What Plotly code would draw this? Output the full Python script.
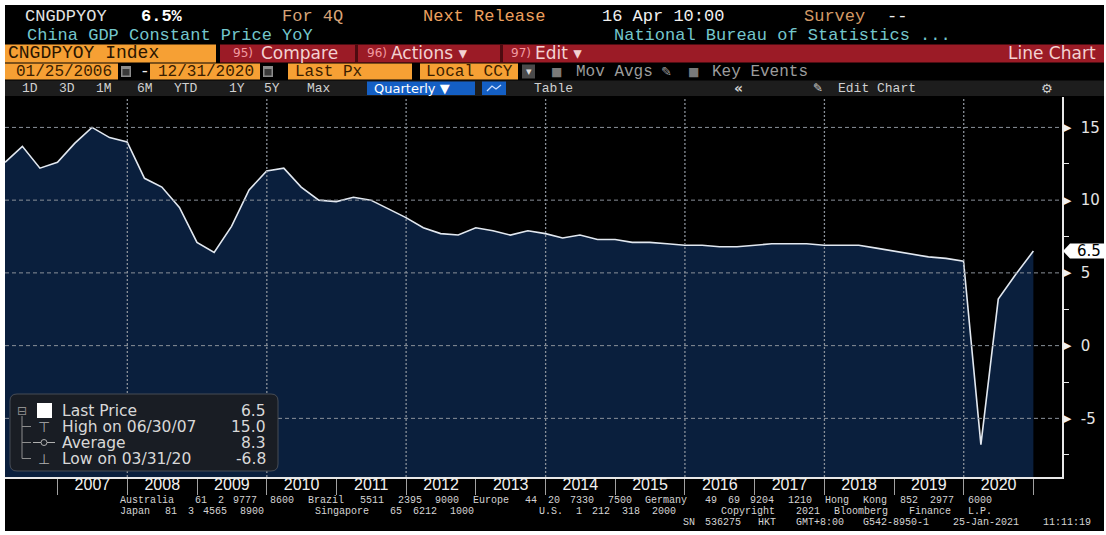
import plotly.graph_objects as go

W, H = 1106, 535

# ---------------- data ----------------
years = list(range(2006, 2021))
quarter_ends = [f"{y}-{md}" for y in years for md in ("03-31", "06-30", "09-30", "12-31")]
gdp_yoy = [
    12.6, 13.7, 12.2, 12.6,   # 2006
    13.9, 15.0, 14.3, 14.0,   # 2007
    11.5, 10.9, 9.5, 7.1,     # 2008
    6.4, 8.2, 10.7, 12.0,     # 2009
    12.2, 10.9, 10.0, 9.9,    # 2010
    10.2, 10.0, 9.4, 8.8,     # 2011
    8.1, 7.7, 7.6, 8.1,       # 2012
    7.9, 7.6, 7.9, 7.7,       # 2013
    7.4, 7.6, 7.3, 7.3,       # 2014
    7.1, 7.1, 7.0, 6.9,       # 2015
    6.9, 6.8, 6.8, 6.9,       # 2016
    7.0, 7.0, 7.0, 6.9,       # 2017
    6.9, 6.9, 6.7, 6.5,       # 2018
    6.3, 6.1, 6.0, 5.8,       # 2019
    -6.8, 3.2, 4.9, 6.5,      # 2020
]
label_years = list(range(2007, 2021))
year_labels = [str(y) for y in label_years]
year_mid_dates = [f"{y}-07-02" for y in label_years]
year_start_dates = [f"{y}-01-01" for y in range(2007, 2022)]
grid_year_dates = [f"{y}-01-01" for y in range(2008, 2021, 2)]
ytick_vals = [-5, 0, 5, 10, 15]
ytick_text = ["-5", "0", "5", "10", "15"]
yminor_vals = [-7.5, -2.5, 2.5, 7.5, 12.5]
x_range = ["2006-03-31", "2021-05-30"]
y_range = [-9.03, 17.09]

# summary stats for the legend box
last_val = gdp_yoy[-1]
hi_val = max(gdp_yoy)
lo_val = min(gdp_yoy)
avg_val = sum(gdp_yoy) / len(gdp_yoy)


def mdy(d):
    y, m, dd = d.split("-")
    return f"{m}/{dd}/{y[2:]}"


hi_date = mdy(quarter_ends[gdp_yoy.index(hi_val)])
lo_date = mdy(quarter_ends[gdp_yoy.index(lo_val)])


def X(px):
    return px / W


def Y(py):
    return 1 - py / H


shapes = []
annotations = []

MONO = "Liberation Mono"
SANS = "DejaVu Sans"


def rect(x0, y0, x1, y1, color, layer="below", line=None):
    shapes.append(dict(type="rect", xref="paper", yref="paper", x0=X(x0), x1=X(x1),
                       y0=Y(y1), y1=Y(y0), fillcolor=color, layer=layer,
                       line=line or dict(width=0)))


def text(x, y, s, color, size, font=MONO, anchor="left"):
    annotations.append(dict(xref="paper", yref="paper", x=X(x), y=Y(y), text=s,
                            showarrow=False, xanchor=anchor, yanchor="middle",
                            font=dict(family=font, size=size, color=color)))


def grid_words(x0, y, s, pitch, color, size):
    """place each word of a terminal line on its fixed-pitch character grid"""
    pos = 0
    for w in s.split(" "):
        if w:
            text(x0 + pos * pitch, y, w, color, size)
        pos += len(w) + 1


# overall black background with white border
rect(5, 5, 1104, 531, "#000000")

# ---- header row 1 ----
r1 = 16
text(23, r1, "CNGDPYOY", "#e4e4e4", 17)
text(139, r1, f"<b>{last_val:.1f}%</b>", "#ffffff", 17)
text(280, r1, "For 4Q", "#d8a478", 17)
text(421, r1, "Next Release", "#eda15f", 17)
text(600, r1, "16 Apr 10:00", "#f0f0f0", 17)
text(802, r1, "Survey", "#d39a66", 17)
text(885, r1, "--", "#f0f0f0", 17)

# ---- header row 2 ----
r2 = 35.5
text(25, r2, "China GDP Constant Price YoY", "#74c6cc", 17)
text(612, r2, "National Bureau of Statistics ...", "#74c6cc", 17)

# ---- header row 3 ----
r3 = 53.5
rect(5, 44.5, 216, 62.5, "#f6a034")
text(6, r3, "CNGDPYOY Index", "#2a1500", 18)
rect(220, 44.5, 1104, 62.5, "#9b1b26")
rect(355, 44.5, 358, 62.5, "#4e0b10")
rect(500, 44.5, 503, 62.5, "#4e0b10")
text(231, r3, "95)", "#f19aa0", 12, SANS)
text(259, r3, "Compare", "#f3d2d2", 17, SANS)
text(365, r3, "96)", "#f19aa0", 12, SANS)
text(389, r3, "Actions \u25be", "#f3d2d2", 17, SANS)
text(509, r3, "97)", "#f19aa0", 12, SANS)
text(533, r3, "Edit \u25be", "#f3d2d2", 17, SANS)
text(1098, r3, "Line Chart", "#f3d2d2", 17, SANS, anchor="right")

# ---- header row 4 ----
r4 = 71.5
OR_TXT = "#3a1d00"
rect(5, 63.5, 118, 79.5, "#f6a034")
text(14, r4, "01/25/2006", OR_TXT, 16)
rect(121, 66, 131, 77, "#8c8c8c")
rect(122.5, 69, 129.5, 75.5, "#3a3a3a")
text(138, r4, "-", "#f0f0f0", 16)
rect(150, 63.5, 260, 79.5, "#f6a034")
text(156, r4, "12/31/2020", OR_TXT, 16)
rect(263, 66, 273, 77, "#8c8c8c")
rect(264.5, 69, 271.5, 75.5, "#3a3a3a")
rect(288, 63.5, 412, 79.5, "#f6a034")
text(293, r4, "Last Px", OR_TXT, 16)
rect(420, 63.5, 518, 79.5, "#f6a034")
text(424, r4, "Local CCY", OR_TXT, 16)
rect(522, 64.5, 535, 78.5, "#4a4a4a")
text(528.5, r4, "\u25be", "#dddddd", 11, SANS, anchor="center")
text(549, r4, "\u25a0", "#7a7a7a", 12, SANS)
text(574, r4, "Mov Avgs", "#9c9c9c", 16)
text(659, r4, "\u270e", "#9c9c9c", 13, SANS)
text(686, r4, "\u25a0", "#7a7a7a", 12, SANS)
text(710, r4, "Key Events", "#9c9c9c", 16)

# ---- header row 5 (toolbar) ----
r5 = 88.5
rect(5, 80.5, 1104, 96, "#1d1d1d")
for lab, px in [("1D", 20), ("3D", 57), ("1M", 94), ("6M", 135), ("YTD", 172),
                ("1Y", 227), ("5Y", 262), ("Max", 305)]:
    text(px, r5, lab, "#d0d0d0", 13)
rect(367, 81.5, 475, 95, "#145fc4")
text(372, r5, "Quarterly \u25bc", "#ffffff", 13, SANS)
rect(482, 81.5, 506, 95, "#145fc4")
shapes.append(dict(type="path", xref="paper", yref="paper", layer="below",
                   path=f"M {X(487)},{Y(91)} L {X(492)},{Y(86)} L {X(496)},{Y(89)} L {X(501)},{Y(85)}",
                   line=dict(color="#cfe0ff", width=1.3)))
text(532, r5, "Table", "#d0d0d0", 13)
text(732, r5, "<b>\u00ab</b>", "#d0d0d0", 14, SANS)
text(811, r5, "\u270e", "#d0d0d0", 12, SANS)
text(836, r5, "Edit Chart", "#d0d0d0", 13)
text(1039, r5, "\u2699", "#d0d0d0", 13, SANS)

# ---- gridlines (drawn over the area fill) ----
for v in ytick_vals:
    shapes.append(dict(type="line", xref="x domain", yref="y", x0=0, x1=1, y0=v, y1=v,
                       layer="above", line=dict(color="#8a9099", width=1, dash="4px,3px")))
for d in grid_year_dates:
    shapes.append(dict(type="line", xref="x", yref="y domain", x0=d, x1=d, y0=0, y1=1,
                       layer="above", line=dict(color="#8a9099", width=1.3, dash="2px,2px")))

# y-axis tick triangles
for v in ytick_vals:
    annotations.append(dict(xref="paper", yref="y", x=X(1061), y=v, text="\u25b6",
                            showarrow=False, xanchor="left", yanchor="middle",
                            font=dict(family=SANS, size=11, color="#f0f0f0")))

# last value tag
h = 7.5 * (y_range[1] - y_range[0]) / 380
shapes.append(dict(type="path", xref="paper", yref="y", layer="above", fillcolor="#ffffff",
                   line=dict(width=0),
                   path=(f"M {X(1063)},{last_val} L {X(1070)},{last_val + h} L {X(1104)},{last_val + h} "
                         f"L {X(1104)},{last_val - h} L {X(1070)},{last_val - h} Z")))
annotations.append(dict(xref="paper", yref="y", x=X(1075), y=last_val, text=f"{last_val:.1f}",
                        showarrow=False, xanchor="left", yanchor="middle",
                        font=dict(family=SANS, size=15, color="#000000")))

# ---- legend box ----
def rounded(x0, y0, x1, y1, r):
    return (f"M {X(x0 + r)},{Y(y0)} L {X(x1 - r)},{Y(y0)} Q {X(x1)},{Y(y0)} {X(x1)},{Y(y0 + r)} "
            f"L {X(x1)},{Y(y1 - r)} Q {X(x1)},{Y(y1)} {X(x1 - r)},{Y(y1)} "
            f"L {X(x0 + r)},{Y(y1)} Q {X(x0)},{Y(y1)} {X(x0)},{Y(y1 - r)} "
            f"L {X(x0)},{Y(y0 + r)} Q {X(x0)},{Y(y0)} {X(x0 + r)},{Y(y0)} Z")


shapes.append(dict(type="path", xref="paper", yref="paper", layer="above",
                   path=rounded(10, 394, 278, 471, 7), fillcolor="#191d24",
                   line=dict(color="#474c55", width=1)))
LG = "#d8d8d8"
TREE = "#8e8e8e"
rows = [410.5, 426.5, 442.5, 458.5]
text(22, rows[0], "\u229f", TREE, 12, SANS, anchor="center")
rect(37, 403, 52, 418, "#ffffff", layer="above")
shapes.append(dict(type="line", xref="paper", yref="paper", layer="above",
                   x0=X(22), x1=X(22), y0=Y(416), y1=Y(rows[3]), line=dict(color=TREE, width=1)))
for ry in rows[1:]:
    shapes.append(dict(type="line", xref="paper", yref="paper", layer="above",
                       x0=X(22), x1=X(31), y0=Y(ry), y1=Y(ry), line=dict(color=TREE, width=1)))
text(44, rows[1], "\u22a4", "#b0b0b0", 14, SANS, anchor="center")
shapes.append(dict(type="line", xref="paper", yref="paper", layer="above",
                   x0=X(33), x1=X(55), y0=Y(rows[2]), y1=Y(rows[2]), line=dict(color="#b0b0b0", width=1)))
shapes.append(dict(type="circle", xref="paper", yref="paper", layer="above",
                   x0=X(41), x1=X(47), y0=Y(rows[2] + 3), y1=Y(rows[2] - 3),
                   fillcolor="#191d24", line=dict(color="#b0b0b0", width=1)))
text(44, rows[3], "\u22a5", "#b0b0b0", 14, SANS, anchor="center")

legend_rows = [
    ("Last Price", f"{last_val:.1f}"),
    (f"High on {hi_date}", f"{hi_val:.1f}"),
    ("Average", f"{avg_val:.1f}"),
    (f"Low on {lo_date}", f"{lo_val:.1f}"),
]
for (lab, val), ry in zip(legend_rows, rows):
    text(60, ry, lab, LG, 15.5, SANS)
    text(268, ry, val, LG, 15.5, SANS, anchor="right")

# ---- footer (fixed-pitch terminal text) ----
FT = "#d4d4d4"
P = 7.5
FS = 10
grid_words(118, 500, "Australia 61 2 9777 8600 Brazil 5511 2395 9000 Europe 44 20 7330 7500 "
                     "Germany 49 69 9204 1210 Hong Kong 852 2977 6000", P, FT, FS)
grid_words(118, 511, "Japan 81 3 4565 8900", P, FT, FS)
grid_words(313, 511, "Singapore 65 6212 1000", P, FT, FS)
grid_words(537, 511, "U.S. 1 212 318 2000", P, FT, FS)
grid_words(719, 511, "Copyright 2021 Bloomberg Finance L.P.", P, FT, FS)
grid_words(681, 522, "SN 536275 HKT  GMT+8:00 G542-8950-1 25-Jan-2021 11:11:19", P, FT, FS)

# ---------------- traces ----------------
fig = go.Figure()
fig.add_trace(go.Scatter(x=quarter_ends, y=[y_range[0]] * len(quarter_ends), mode="lines",
                         line=dict(width=0), hoverinfo="skip", showlegend=False))
fig.add_trace(go.Scatter(x=quarter_ends, y=gdp_yoy, mode="lines", fill="tonexty",
                         fillcolor="#0a1f3d", line=dict(color="#e2e8f0", width=1.6),
                         showlegend=False, name="CNGDPYOY"))

fig.update_layout(
    width=W, height=H,
    margin=dict(l=0, r=0, t=0, b=0),
    paper_bgcolor="#ffffff",
    plot_bgcolor="#000000",
    showlegend=False,
    shapes=shapes,
    annotations=annotations,
    xaxis=dict(
        type="date", range=x_range, domain=[X(5), X(1062)],
        showgrid=False, zeroline=False,
        showline=True, linecolor="#e8e8e8", linewidth=1.5,
        tickmode="array", tickvals=year_mid_dates, ticktext=year_labels, ticks="", ticklen=0,
        ticklabelstandoff=-8,
        tickfont=dict(family="Liberation Sans", size=16, color="#f0f0f0"),
        minor=dict(tickmode="array", tickvals=year_start_dates, ticks="outside",
                   ticklen=16, tickwidth=1, tickcolor="#a0a0a0", showgrid=False),
    ),
    yaxis=dict(
        range=y_range, domain=[Y(477), Y(97)], side="right",
        showgrid=False, zeroline=False,
        showline=True, linecolor="#e8e8e8", linewidth=1.5,
        tickmode="array", tickvals=ytick_vals, ticktext=ytick_text, ticks="",
        ticklabelstandoff=14,
        tickfont=dict(family=SANS, size=15, color="#e4e4e4"),
        minor=dict(tickmode="array", tickvals=yminor_vals, ticks="outside",
                   ticklen=5, tickwidth=1, tickcolor="#e8e8e8", showgrid=False),
    ),
)

fig.write_html("out.html", config={"displayModeBar": False},
               post_script="document.body.style.margin='0px';document.body.style.overflow='hidden';")
